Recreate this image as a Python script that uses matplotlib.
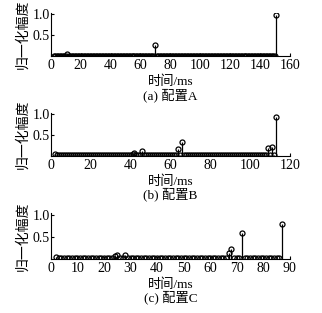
import numpy as np
import matplotlib.pyplot as plt

plt.rcParams['font.family'] = ['Liberation Serif', 'Noto Sans CJK SC']
plt.rcParams['font.size'] = 10

# time axis (ms) of each configuration: first and last sample
t_range_a = (2, 151)
t_range_b = (2, 113)
t_range_c = (2, 87)

# normalised amplitude: level of the small samples plus the visible peaks
base_a = 0.01
peaks_a = {11: 0.06, 70: 0.26, 151: 0.98}

base_b = 0.01
peaks_b = {2: 0.04, 41: 0.05, 42: 0.08, 46: 0.11, 64: 0.17, 66: 0.32,
           109: 0.18, 111: 0.21, 113: 0.93}

base_c = 0.01
peaks_c = {2: 0.05, 21: 0.03, 24: 0.07, 25: 0.08, 28: 0.09,
           67: 0.14, 68: 0.22, 72: 0.59, 87: 0.78}

xmax = [160, 120, 90]
xstep = [20, 20, 10]
captions = ['(a) 配置A', '(b) 配置B', '(c) 配置C']


def build(t_range, base, peaks):
    t = np.arange(t_range[0], t_range[1] + 1)
    amp = np.array([peaks.get(int(v), base) for v in t])
    return t, amp


series = [build(t_range_a, base_a, peaks_a),
          build(t_range_b, base_b, peaks_b),
          build(t_range_c, base_c, peaks_c)]

W, H = 322, 313
fig = plt.figure(figsize=(W / 100, H / 100), dpi=100)
# axes boxes in figure fractions
boxes = [[0.158, 0.821, 0.742, 0.138],
         [0.158, 0.502, 0.742, 0.138],
         [0.158, 0.173, 0.742, 0.145]]

for i in range(3):
    ax = fig.add_axes(boxes[i])
    t, amp = series[i]
    markers, stems, base = ax.stem(t, amp, linefmt='k-', markerfmt='ko', basefmt=' ')
    markers.set_markerfacecolor('none')
    markers.set_markersize(3.6)
    markers.set_markeredgewidth(0.9)
    stems.set_linewidth(0.9)
    ax.set_xlim(0, xmax[i])
    ax.set_ylim(0, 1.03)
    ax.set_xticks(np.arange(0, xmax[i] + 1, xstep[i]))
    ax.set_yticks([0.5, 1.0])
    ax.set_yticklabels(['0.5', '1.0'])
    ax.spines['top'].set_visible(False)
    ax.spines['right'].set_visible(False)
    ax.tick_params(direction='in', length=2.5, width=0.8, pad=2)
    ax.tick_params(axis='y', pad=1)
    ax.set_xlabel('时间/ms', fontsize=9.5, labelpad=2.5)
    ax.set_ylabel('归一化幅度', labelpad=2)
    # caption below the axis label, about 39 px under the x axis
    cap_y = boxes[i][1] - 39 / H
    fig.text(boxes[i][0] + boxes[i][2] / 2, cap_y, captions[i],
             fontsize=9.5, ha='center', va='center')

fig.savefig('out.png', dpi=100)
